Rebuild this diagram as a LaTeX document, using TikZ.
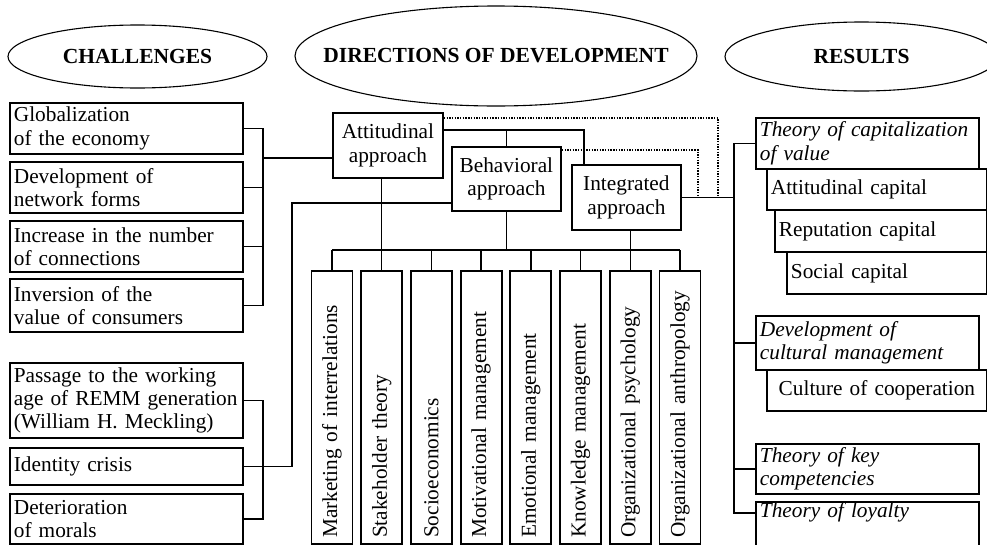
\documentclass[tikz,border=0pt]{standalone}
\usepackage{fontspec}
\setmainfont{Liberation Serif}
\usetikzlibrary{shapes.geometric}

\begin{document}
\begin{tikzpicture}[x=1pt,y=-1pt,
  font=\fontsize{21.3}{23.3}\selectfont,
  box/.style={draw,line width=1.8pt,anchor=north west,inner xsep=4pt,inner ysep=0pt,align=left},
  lbox/.style={box,text width=225pt},
  rbox/.style={box,text width=215pt,font=\fontsize{21.3}{23.3}\selectfont\itshape},
  abox/.style={box,align=center,text width=101pt},
  vbox/.style={draw,line width=1.8pt,rotate=90,anchor=east,minimum width=273pt,minimum height=41pt,
               inner xsep=6pt,inner ysep=0pt,text width=261pt,align=left},
  oval/.style={ellipse,draw,line width=1.1pt,inner sep=0pt,font=\fontsize{21.5}{24}\selectfont\bfseries},
  link/.style={line width=1.4pt},
  dots/.style={line width=1.4pt,dash pattern=on 1.4pt off 1.3pt},
]
\useasboundingbox (0,0) rectangle (987,544);

% ===================== HEADINGS =====================
\node[oval,minimum width=259pt,minimum height=63pt] (hch) at (137.5,56.5) {CHALLENGES};
\node[oval,inner xsep=-31pt,minimum width=402pt,minimum height=100pt] (hdir) at (496,56) {DIRECTIONS OF DEVELOPMENT};
\node[oval,minimum width=273pt,minimum height=69pt] (hres) at (861.5,56.5) {RESULTS};

% ===================== CHALLENGES =====================
\node[lbox,minimum height=51pt] (glob) at (9,102) {Globalization\\of the economy};
\node[lbox,minimum height=51pt] (dev) at (9,161) {Development of\\network forms};
\node[lbox,minimum height=51pt] (inc) at (9,220) {Increase in the number\\of connections};
\node[lbox,minimum height=53pt] (inv) at (9,278) {Inversion of the\\value of consumers};
\node[lbox,minimum height=75pt] (pass) at (9,362) {Passage to the working\\age of REMM generation\\(William H. Meckling)};
\node[lbox,minimum height=37pt] (idc) at (9,447) {Identity crisis};
\node[lbox,minimum height=50pt] (det) at (9,493) {Deterioration\\of morals};

% ===================== APPROACHES =====================
\node[abox,minimum height=65pt,text width=102pt] (att) at (332,112) {Attitudinal\\approach};
\node[abox,minimum height=64pt] (beh) at (451,146) {Behavioral\\approach};
\node[abox,minimum height=65pt] (int) at (571,164) {Integrated\\approach};

\foreach \i/\t in {1/Marketing of interrelations,2/Stakeholder theory,3/Socioeconomics,
                   4/Motivational management,5/Emotional management,6/Knowledge management,
                   7/Organizational psychology,8/Organizational anthropology}{
  \node[vbox] (v\i) at ({332+49.7*(\i-1)},270) {\t};
}

% ===================== RESULTS =====================
\node[rbox,minimum height=51pt] (cap) at (755,117) {Theory of capitalization\\of value};
\node[box,minimum height=41pt,text width=212pt] (acap) at (766,168) {Attitudinal capital};
\node[box,minimum height=42pt,text width=204pt] (rcap) at (774,209) {Reputation capital};
\node[box,minimum height=42pt,text width=192pt] (scap) at (786,251) {Social capital};
\node[rbox,minimum height=54pt] (cult) at (755,315) {Development of\\cultural management};
\node[box,align=center,minimum height=41pt,text width=212pt] (coop) at (766,369) {Culture of cooperation};
\node[rbox,minimum height=50pt] (key) at (755,443) {Theory of key\\competencies};
\node[rbox,text height=16pt,text depth=40pt] (loy) at (755,501) {Theory of loyalty};

% ===================== CONNECTORS =====================
\coordinate (jL) at (263,158);
\coordinate (jL2) at (263,465);
\coordinate (jB) at (292,203);
\coordinate (jT) at (584,130);
\coordinate (comb) at (332,250);
\coordinate (jR) at (734,513);
\coordinate (d1) at (718,197);
\coordinate (d2) at (698,197);

% challenges -> approaches
\draw[link] (glob.east) -| (jL);
\draw[link] (inv.east) -| (jL);
\draw[link] (dev.east) -- (dev.east -| jL);
\draw[link] (inc.east) -- (inc.east -| jL);
\draw[link] (jL) -- (jL -| att.west);
\draw[link] (pass.east) -| (jL2);
\draw[link] (det.east) -| (jL2);
\draw[link] (idc.east) -| (jB) -- (jB -| beh.west);

% approaches among themselves
\draw[link] (att.east |- jT) -| (jT |- int.north);
\draw[link] (beh.north) -- (beh.north |- jT);
\draw[dots] ([yshift=-6pt]att.north east) -| (d1);
\draw[dots] ([yshift=-4pt]beh.north east) -| (d2);

% approaches -> fields
\foreach \i in {1,...,8}{\draw[link] (v\i.east) -- (v\i.east |- comb);}
\draw[link] (v1.east |- comb) -- (v8.east |- comb);
\draw[link] (att.south -| v2.east) -- (v2.east |- comb);
\draw[link] (beh.south) -- (beh.south |- comb);
\draw[link] (int.south -| v7.east) -- (v7.east |- comb);

% approaches -> results
\draw[link] (int.east) -- (int.east -| jR);
\draw[link] (cap.west) -| (jR) -- (jR -| loy.west);
\draw[link] (cult.west) -- (cult.west -| jR);
\draw[link] (key.west) -- (key.west -| jR);

\end{tikzpicture}
\end{document}
